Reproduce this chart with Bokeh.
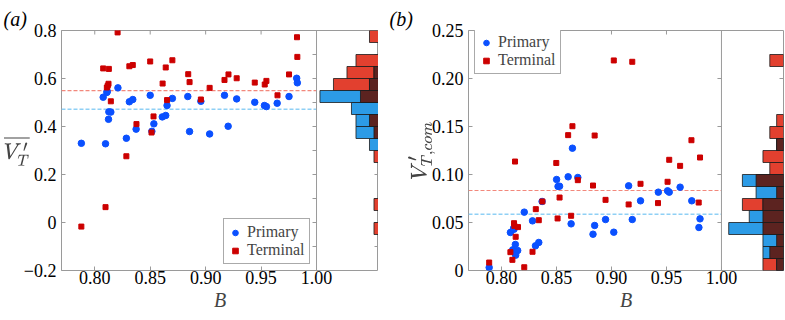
import numpy as np
from bokeh.plotting import figure
from bokeh.models import (Range1d, FixedTicker, Span, Legend, LegendItem, TeX,
                          NumeralTickFormatter)
from bokeh.layouts import row
from bokeh.embed import file_html
from bokeh.resources import INLINE

# ---------------- data ----------------
# (a) mean transfer velocity against B
a_primary_B = [0.7879, 0.8097, 0.8076, 0.8109, 0.8113, 0.8127, 0.8145, 0.8124, 0.8209, 0.8285,
               0.8312, 0.8343, 0.8373, 0.8500, 0.8515, 0.8533, 0.8609, 0.8640, 0.8652, 0.8700,
               0.8839, 0.8855, 0.8957, 0.9036, 0.9170, 0.9203, 0.9280, 0.9443, 0.9530, 0.9548,
               0.9645, 0.9752, 0.9821, 0.9827]
a_primary_V = [0.330, 0.328, 0.522, 0.542, 0.546, 0.461, 0.460, 0.430, 0.561, 0.351,
               0.503, 0.5125, 0.389, 0.530, 0.380, 0.411, 0.440, 0.446, 0.4875, 0.517,
               0.525, 0.379, 0.505, 0.369, 0.530, 0.401, 0.515, 0.501, 0.4875, 0.483,
               0.497, 0.525, 0.601, 0.582]
a_terminal_B = [0.8206, 0.8076, 0.8127, 0.8124, 0.8109, 0.8117, 0.8145, 0.8312, 0.8343, 0.8376,
                0.8285, 0.8500, 0.8530, 0.8512, 0.8640, 0.8700, 0.8612, 0.8652, 0.8843, 0.8855,
                0.8957, 0.9036, 0.9170, 0.9206, 0.9280, 0.9443, 0.9533, 0.9548, 0.9648, 0.9752,
                0.9824, 0.9827, 0.7879, 0.8097]
a_terminal_V = [0.792, 0.642, 0.640, 0.578, 0.5625, 0.570, 0.505, 0.651, 0.656, 0.410,
                0.276, 0.671, 0.442, 0.375, 0.646, 0.676, 0.579, 0.510, 0.618, 0.585,
                0.5125, 0.561, 0.594, 0.617, 0.601, 0.583, 0.575, 0.590, 0.530, 0.617,
                0.772, 0.690, -0.017, 0.064]

# (b) centre-of-mass transfer velocity against B
b_primary_B = [0.7888, 0.8081, 0.8114, 0.8110, 0.8126, 0.8102, 0.8147, 0.8129, 0.8207, 0.8282,
               0.8309, 0.8339, 0.8369, 0.8501, 0.8514, 0.8528, 0.8606, 0.8694, 0.8633, 0.8645,
               0.8832, 0.8847, 0.8946, 0.9021, 0.9156, 0.9189, 0.9264, 0.9426, 0.9510, 0.9525,
               0.9624, 0.9730, 0.9805, 0.9795]
b_primary_V = [0.0031, 0.0396, 0.0430, 0.0440, 0.0271, 0.0215, 0.0208, 0.0160, 0.0608, 0.0517,
               0.0257, 0.0292, 0.0719, 0.0948, 0.0876, 0.0878, 0.0976, 0.0969, 0.0486, 0.1274,
               0.0378, 0.0469, 0.0531, 0.0399, 0.0882, 0.0531, 0.0726, 0.0816, 0.0830, 0.0816,
               0.0868, 0.0726, 0.0538, 0.0448]
b_terminal_B = [0.9021, 0.9189, 0.8645, 0.8606, 0.8847, 0.9727, 0.9805, 0.9525, 0.8123, 0.8498,
                0.9624, 0.8694, 0.8832, 0.9264, 0.9510, 0.8528, 0.8946, 0.8372, 0.8312, 0.9156,
                0.9423, 0.9793, 0.8339, 0.8510, 0.8633, 0.8114, 0.8117, 0.8150, 0.8129, 0.8081,
                0.8282, 0.8099, 0.8207, 0.7888]
b_terminal_V = [0.2188, 0.2174, 0.1503, 0.1410, 0.1406, 0.1357, 0.1177, 0.1153, 0.1135, 0.1120,
                0.1090, 0.0941, 0.0885, 0.0903, 0.0924, 0.0760, 0.0736, 0.0719, 0.0639, 0.0688,
                0.0702, 0.0708, 0.0524, 0.0542, 0.0570, 0.0493, 0.0465, 0.0452, 0.0351, 0.0191,
                0.0195, 0.0111, 0.0034, 0.0083]

x_ticks = [0.80, 0.85, 0.90, 0.95, 1.00]
a_y_ticks = [-0.2, 0.0, 0.2, 0.4, 0.6, 0.8]
a_y_labels = ["\u22120.2", "0", "0.2", "0.4", "0.6", "0.8"]
a_side_ticks = [-0.1, 0.0, 0.1, 0.2, 0.3, 0.4, 0.5, 0.6, 0.7]
b_y_ticks = [0.0, 0.05, 0.10, 0.15, 0.20, 0.25]
b_y_labels = ["0", "0.05", "0.10", "0.15", "0.20", "0.25"]
b_side_ticks = [0.05, 0.10, 0.15, 0.20]

# ---------------- style ----------------
SERIF = "Liberation Serif"
GRAY = "#9a9a9a"
PT_BLUE = "#0a50ff"
PT_RED = "#cc0000"
H_BLUE = "#2c9be6"
H_RED = "#e2402f"
H_DARK = "#5c2320"
MEAN_BLUE = "#8fd0f5"
MEAN_RED = "#f2887c"
B_MIN, B_MAX = 0.77, 1.0


def panel(prim_B, prim_V, term_B, term_V, y_lo, y_hi, y_ticks, y_labels, side_ticks,
          n_bins, x_end, hist_max, width, border_left, border_right, legend_loc, tag,
          tag_x):
    p = figure(width=width, height=320, output_backend="svg", toolbar_location=None,
               x_range=Range1d(B_MIN, x_end), y_range=Range1d(y_lo, y_hi),
               min_border_left=border_left, min_border_right=border_right,
               min_border_top=30, min_border_bottom=50)
    p.extra_x_ranges = {"hist": Range1d(hist_max, 0)}
    p.grid.visible = False
    p.outline_line_color = GRAY
    p.background_fill_color = "white"
    p.border_fill_color = "white"

    # panel tag as the title
    p.title.text = "(" + tag + ")"
    p.title.align = "left"
    p.title.offset = -(border_left - tag_x)
    p.title.standoff = 2
    p.title.text_font = SERIF
    p.title.text_font_style = "italic"
    p.title.text_font_size = "20px"
    p.title.text_color = "black"

    for ax in (p.xaxis[0], p.yaxis[0]):
        ax.axis_line_color = None
        ax.major_tick_in = 4
        ax.major_tick_out = 0
        ax.major_tick_line_color = GRAY
        ax.minor_tick_line_color = None
        ax.major_label_text_font = SERIF
        ax.major_label_text_font_size = "18px"
        ax.major_label_text_color = "black"

    p.xaxis.ticker = FixedTicker(ticks=x_ticks)
    p.xaxis.formatter = NumeralTickFormatter(format="0.00")
    p.xaxis.major_label_standoff = 0
    p.xaxis.axis_label = "B"
    p.xaxis.axis_label_text_font = SERIF
    p.xaxis.axis_label_text_font_style = "italic"
    p.xaxis.axis_label_text_font_size = "20px"
    p.xaxis.axis_label_standoff = 2

    p.yaxis.ticker = FixedTicker(ticks=y_ticks)
    p.yaxis.major_label_overrides = {t: s for t, s in zip(y_ticks, y_labels)}
    p.yaxis.major_label_standoff = 5

    # inward ticks along the top edge of the scatter
    top_ticks = x_ticks[:-1]
    p.ray(x=top_ticks, y=[y_hi] * len(top_ticks), length=4, length_units="screen",
          angle=-np.pi / 2, line_color=GRAY, line_width=1)

    # divider between scatter and histogram
    p.add_layout(Span(location=B_MAX, dimension="height", line_color=GRAY, line_width=1))
    # inward ticks on the divider and on the right edge
    p.ray(x=[B_MAX] * len(side_ticks), y=side_ticks, length=4, length_units="screen",
          angle=np.pi, line_color=GRAY, line_width=1)
    p.ray(x=[x_end] * len(side_ticks), y=side_ticks, length=4, length_units="screen",
          angle=np.pi, line_color=GRAY, line_width=1)

    # mean lines
    p.segment(x0=[B_MIN], x1=[B_MAX], y0=[np.mean(term_V)], y1=[np.mean(term_V)],
              line_color=MEAN_RED, line_dash="4 2", line_width=1.2)
    p.segment(x0=[B_MIN], x1=[B_MAX], y0=[np.mean(prim_V)], y1=[np.mean(prim_V)],
              line_color=MEAN_BLUE, line_dash="4 2", line_width=1.5)

    # marginal histograms
    edges = np.linspace(y_lo, y_hi, n_bins + 1)
    mids = 0.5 * (edges[:-1] + edges[1:])
    bw = edges[1] - edges[0]
    cp, _ = np.histogram(prim_V, edges)
    ct, _ = np.histogram(term_V, edges)
    both = np.minimum(cp, ct)
    for counts, col in ((ct, H_RED), (cp, H_BLUE), (both, H_DARK)):
        m = counts > 0
        p.hbar(y=mids[m], left=0, right=counts[m], height=bw, x_range_name="hist",
               fill_color=col, line_color="#1a1a1a", line_width=0.8)

    r_p = p.scatter(prim_B, prim_V, marker="circle", size=6.5, fill_color=PT_BLUE,
                    line_color=PT_BLUE)
    r_t = p.scatter(term_B, term_V, marker="square", size=5, fill_color=PT_RED,
                    line_color=PT_RED)

    legend = Legend(items=[LegendItem(label="Primary", renderers=[r_p]),
                           LegendItem(label="Terminal", renderers=[r_t])],
                    location=legend_loc, label_text_font=SERIF,
                    label_text_font_size="16px",
                    glyph_width=14, glyph_height=15, label_height=15, label_standoff=5,
                    padding=4, spacing=0, margin=0, border_line_color="#555555",
                    border_line_width=1, background_fill_alpha=1)
    p.add_layout(legend)
    return p


pa = panel(a_primary_B, a_primary_V, a_terminal_B, a_terminal_V, -0.2, 0.8,
           a_y_ticks, a_y_labels, a_side_ticks, 20, 1.0559, 70.4,
           378, 61, 0, (162, 6), "a", 3)
pa.yaxis.axis_label = TeX(text=r"\overline{V'_T}")
pa.yaxis.axis_label_orientation = "horizontal"
pa.yaxis.axis_label_text_font_size = "18px"
pa.yaxis.axis_label_standoff = -9

pb = panel(b_primary_B, b_primary_V, b_terminal_B, b_terminal_V, 0.0, 0.25,
           b_y_ticks, b_y_labels, b_side_ticks, 20, 1.0564, 46.0,
           407, 90, 2, (6, 196), "b", 11)
pb.yaxis.axis_label = TeX(text=r"V'_{T,com}")
pb.yaxis.axis_label_text_font_size = "19px"
pb.yaxis.axis_label_standoff = -6

layout = row(pa, pb, spacing=0)
open("out.html", "w").write(file_html(layout, INLINE))
